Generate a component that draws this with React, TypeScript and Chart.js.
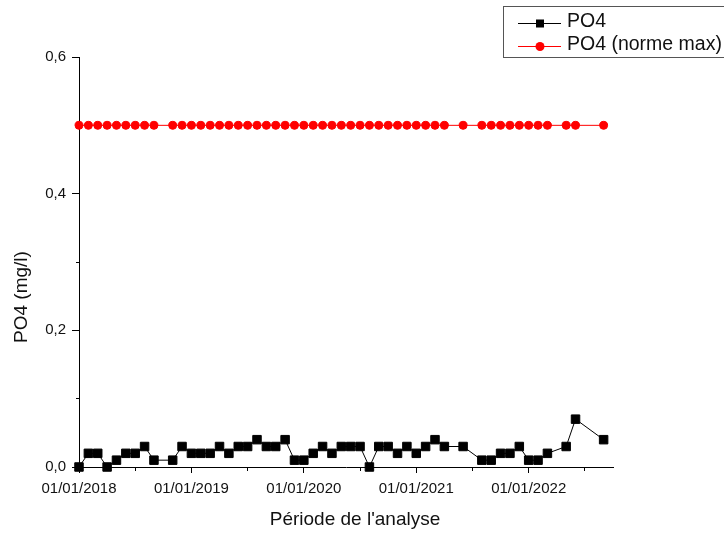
import React, { useEffect, useRef } from 'react';
import { Chart, registerables } from 'chart.js';

Chart.register(...registerables);

// Sampling months (YYYY-MM)
const sampleMonths = [
  '2018-01', '2018-02', '2018-03', '2018-04', '2018-05', '2018-06', '2018-07', '2018-08', '2018-09', '2018-11', '2018-12',
  '2019-01', '2019-02', '2019-03', '2019-04', '2019-05', '2019-06', '2019-07', '2019-08', '2019-09', '2019-10', '2019-11', '2019-12',
  '2020-01', '2020-02', '2020-03', '2020-04', '2020-05', '2020-06', '2020-07', '2020-08', '2020-09', '2020-10', '2020-11', '2020-12',
  '2021-01', '2021-02', '2021-03', '2021-04', '2021-06', '2021-08', '2021-09', '2021-10', '2021-11', '2021-12',
  '2022-01', '2022-02', '2022-03', '2022-05', '2022-06', '2022-09',
];

const po4Values = [
  0.0, 0.02, 0.02, 0.0, 0.01, 0.02, 0.02, 0.03, 0.01, 0.01, 0.03,
  0.02, 0.02, 0.02, 0.03, 0.02, 0.03, 0.03, 0.04, 0.03, 0.03, 0.04, 0.01,
  0.01, 0.02, 0.03, 0.02, 0.03, 0.03, 0.03, 0.0, 0.03, 0.03, 0.02, 0.03,
  0.02, 0.03, 0.04, 0.03, 0.03, 0.01, 0.01, 0.02, 0.02, 0.03,
  0.01, 0.01, 0.02, 0.03, 0.07, 0.04,
];

const po4NormeMax = [
  0.5, 0.5, 0.5, 0.5, 0.5, 0.5, 0.5, 0.5, 0.5, 0.5, 0.5,
  0.5, 0.5, 0.5, 0.5, 0.5, 0.5, 0.5, 0.5, 0.5, 0.5, 0.5, 0.5,
  0.5, 0.5, 0.5, 0.5, 0.5, 0.5, 0.5, 0.5, 0.5, 0.5, 0.5, 0.5,
  0.5, 0.5, 0.5, 0.5, 0.5, 0.5, 0.5, 0.5, 0.5, 0.5,
  0.5, 0.5, 0.5, 0.5, 0.5, 0.5,
];

const seriesLabels = ['PO4', 'PO4 (norme max)'];
const xTickLabels = ['01/01/2018', '01/01/2019', '01/01/2020', '01/01/2021', '01/01/2022'];
const yTickLabels = ['0,0', '0,2', '0,4', '0,6'];
const xAxisTitle = "Période de l'analyse";
const yAxisTitle = 'PO4 (mg/l)';

const FONT = '"Liberation Sans", Arial, sans-serif';

const monthIndex = (s: string) => {
  const [y, m] = s.split('-').map(Number);
  return (y - 2018) * 12 + (m - 1);
};

const originDecor = {
  id: 'originDecor',
  afterDraw(chart: any) {
    const ctx = chart.ctx as CanvasRenderingContext2D;
    ctx.save();
    // axis titles
    ctx.fillStyle = '#111';
    ctx.font = `19px ${FONT}`;
    ctx.textAlign = 'center';
    ctx.textBaseline = 'middle';
    ctx.fillText(xAxisTitle, 355, 520);
    ctx.save();
    ctx.translate(22, 297);
    ctx.rotate(-Math.PI / 2);
    ctx.fillText(yAxisTitle, 0, 0);
    ctx.restore();

    // legend
    ctx.strokeStyle = '#555';
    ctx.lineWidth = 1;
    ctx.strokeRect(503.5, 6.5, 240, 51);
    chart.data.datasets.forEach((ds: any, i: number) => {
      const y = 23 + i * 23;
      ctx.strokeStyle = ds.borderColor;
      ctx.lineWidth = 1;
      ctx.beginPath();
      ctx.moveTo(518, y + 0.5);
      ctx.lineTo(561, y + 0.5);
      ctx.stroke();
      ctx.fillStyle = ds.pointBackgroundColor;
      if (ds.pointStyle === 'rect') {
        ctx.fillRect(536, y - 3.5, 8, 8);
      } else {
        ctx.beginPath();
        ctx.arc(540, y + 0.5, 4.5, 0, Math.PI * 2);
        ctx.fill();
      }
      ctx.fillStyle = '#111';
      ctx.font = `19.5px ${FONT}`;
      ctx.textBaseline = 'middle';
      ctx.textAlign = 'left';
      ctx.fillText(ds.label, 567, y - 1);
    });
    ctx.restore();
  },
};

export default function App() {
  const ref = useRef<HTMLCanvasElement | null>(null);

  useEffect(() => {
    if (!ref.current) return;
    const xs = sampleMonths.map(monthIndex);
    const chart = new Chart(ref.current, {
      type: 'line',
      data: {
        datasets: [
          {
            label: seriesLabels[0],
            data: xs.map((x, i) => ({ x, y: po4Values[i] })),
            borderColor: '#000',
            backgroundColor: '#000',
            borderWidth: 1,
            pointStyle: 'rect',
            pointRadius: 6,
            pointBackgroundColor: '#000',
            pointBorderColor: '#000',
            pointBorderWidth: 1,
            clip: false,
          } as any,
          {
            label: seriesLabels[1],
            data: xs.map((x, i) => ({ x, y: po4NormeMax[i] })),
            borderColor: '#ff0000',
            backgroundColor: '#ff0000',
            borderWidth: 1,
            pointStyle: 'circle',
            pointRadius: 4,
            pointBackgroundColor: '#ff0000',
            pointBorderColor: '#ff0000',
            pointBorderWidth: 1,
            clip: false,
          } as any,
        ],
      },
      options: {
        animation: false,
        responsive: false,
        maintainAspectRatio: false,
        events: [],
        layout: { padding: { top: 57, right: 111, bottom: 0, left: 0 } },
        plugins: {
          legend: { display: false },
          tooltip: { enabled: false },
        },
        scales: {
          x: {
            type: 'linear',
            min: 0,
            max: 57,
            afterFit: (s: any) => { s.height = 67; },
            afterBuildTicks: (s: any) => {
              const t = [];
              for (let v = 0; v <= 54; v += 6) t.push({ value: v });
              s.ticks = t;
            },
            border: { display: true, color: '#000', width: 1 },
            grid: {
              display: true,
              drawOnChartArea: false,
              drawTicks: true,
              tickLength: 6,
              tickColor: '#000',
              tickWidth: 1,
              tickBorderDash: (c: any) => (c.tick && c.tick.value % 12 !== 0 ? [3, 100] : []),
            } as any,
            ticks: {
              autoSkip: false,
              maxRotation: 0,
              padding: 7,
              color: '#111',
              font: { family: FONT, size: 15 },
              callback: (v: any) => (Number(v) % 12 === 0 ? xTickLabels[Number(v) / 12] ?? '' : ''),
            },
            title: { display: false },
          },
          y: {
            type: 'linear',
            min: 0,
            max: 0.6,
            afterFit: (s: any) => { s.width = 79; },
            afterBuildTicks: (s: any) => {
              const t = [];
              for (let i = 0; i <= 6; i++) t.push({ value: i / 10 });
              s.ticks = t;
            },
            border: { display: true, color: '#000', width: 1 },
            grid: {
              display: true,
              drawOnChartArea: false,
              drawTicks: true,
              tickLength: 7,
              tickColor: '#000',
              tickWidth: 1,
              tickBorderDash: (c: any) => (c.index % 2 === 1 ? [0, 4, 3, 100] : []),
            } as any,
            ticks: {
              autoSkip: false,
              padding: 6,
              color: '#111',
              font: { family: FONT, size: 15 },
              callback: (_v: any, i: number) => (i % 2 === 0 ? yTickLabels[i / 2] ?? '' : ''),
            },
            title: { display: false },
          },
        },
      },
      plugins: [originDecor],
    });
    return () => chart.destroy();
  }, []);

  return (
    <div style={{ position: 'absolute', left: 0, top: 0, width: 724, height: 534, background: '#fff' }}>
      <canvas ref={ref} width={724} height={534} style={{ display: 'block' }} />
    </div>
  );
}
